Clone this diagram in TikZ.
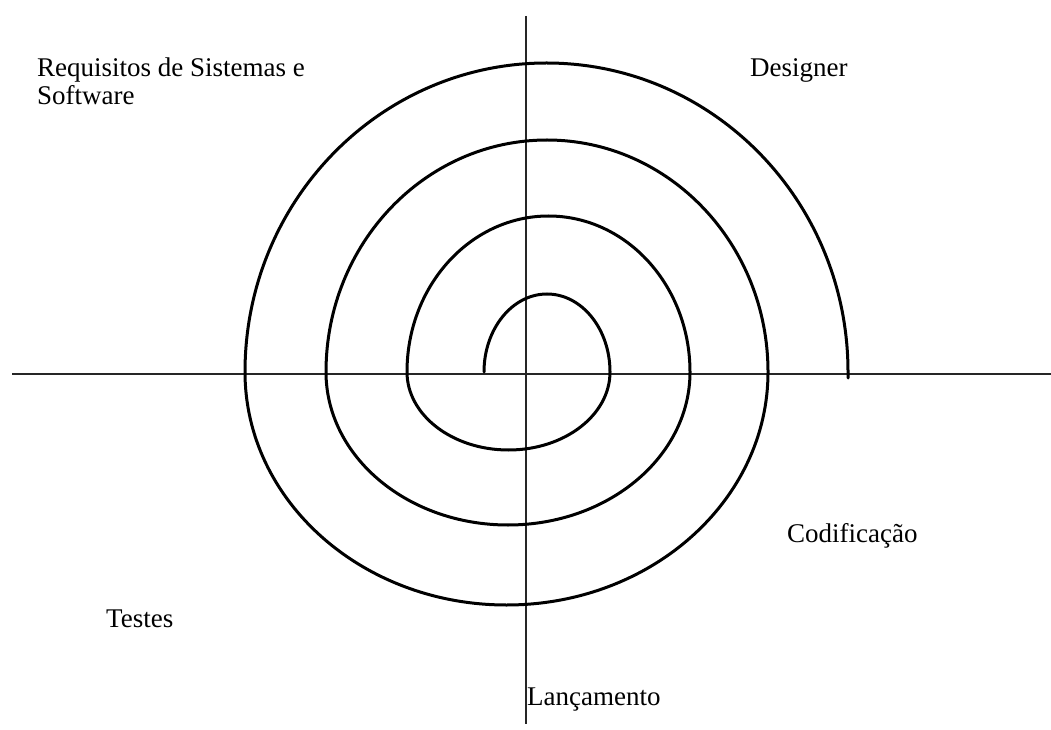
\documentclass[tikz,border=0pt]{standalone}
\usepackage{fontspec}
\setmainfont{Liberation Serif}
\begin{document}
\begin{tikzpicture}[x=1pt,y=1pt,
  axis/.style={line width=1.5pt,black!85},
  spiral/.style={line width=3pt,line cap=round,line join=round},
  lbl/.style={anchor=base west,inner sep=0pt,font=\fontsize{27}{28}\selectfont}]
\useasboundingbox (0,0) rectangle (1051,729);
\coordinate (L) at (12,355);
\coordinate (R) at (1051,355);
\coordinate (T) at (526,713);
\coordinate (B) at (526,5);
\draw[axis] (L) -- (R);
\draw[axis] (T) -- (B);
\coordinate (s0) at (484,357);
\draw[spiral] (s0) arc[start angle=180,end angle=0,x radius=63,y radius=78]
  arc[start angle=0,end angle=-180,x radius=101.5,y radius=78]
  arc[start angle=180,end angle=0,x radius=141.5,y radius=156]
  arc[start angle=0,end angle=-180,x radius=182,y radius=153]
  arc[start angle=180,end angle=0,x radius=221,y radius=232]
  arc[start angle=0,end angle=-180,x radius=261.5,y radius=233]
  arc[start angle=180,end angle=0,x radius=301.5,y radius=309]
  -- ++(0,-6);
\node[lbl] (req) at (37,652) {\parbox[t]{320pt}{\raggedright Requisitos de Sistemas e\\Software}};
\node[lbl] (des) at (750,652) {Designer};
\node[lbl] (cod) at (787,187) {Codificação};
\node[lbl] (tes) at (106,102) {Testes};
\node[lbl] (lan) at (527,24) {Lançamento};
\end{tikzpicture}
\end{document}
